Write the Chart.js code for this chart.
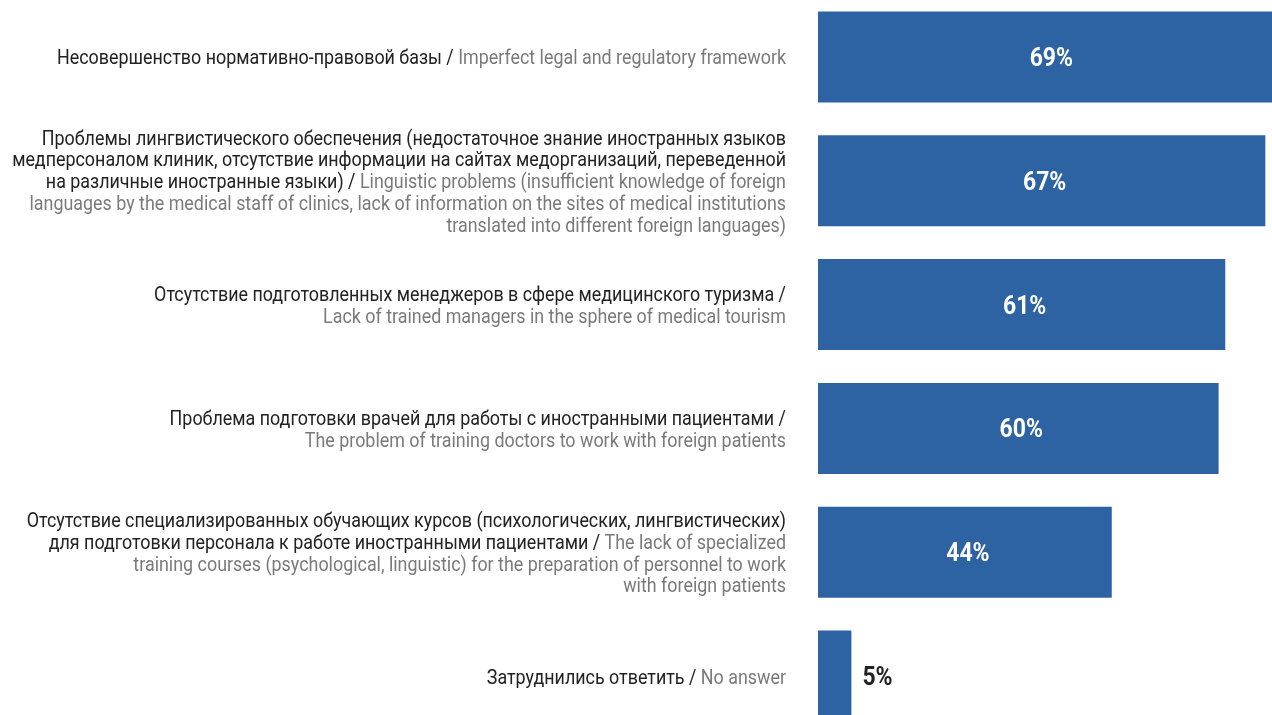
<!DOCTYPE html>
<html lang="ru">
<head>
    <meta charset="UTF-8">
    <title>Проблемы медицинского туризма</title>
    <script src="https://cdn.jsdelivr.net/npm/chart.js"></script>
    <style>
        html, body { margin: 0; padding: 0; background: #fff; overflow: hidden; }
        #wrap { position: absolute; left: 0; top: -5px; width: 1272px; height: 743px; }
    </style>
</head>
<body>
    <div id="wrap"><canvas id="chart" width="1272" height="743"></canvas></div>
    <script>
        // категории: строки подписи, как они переносятся на картинке
        const categories = [
            ['Несовершенство нормативно-правовой базы / Imperfect legal and regulatory framework'],
            ['Проблемы лингвистического обеспечения (недостаточное знание иностранных языков',
             'медперсоналом клиник, отсутствие информации на сайтах медорганизаций, переведенной',
             'на различные иностранные языки) / Linguistic problems (insufficient knowledge of foreign',
             'languages by the medical staff of clinics, lack of information on the sites of medical institutions',
             'translated into different foreign languages)'],
            ['Отсутствие подготовленных менеджеров в сфере медицинского туризма /',
             'Lack of trained managers in the sphere of medical tourism'],
            ['Проблема подготовки врачей для работы с иностранными пациентами /',
             'The problem of training doctors to work with foreign patients'],
            ['Отсутствие специализированных обучающих курсов (психологических, лингвистических)',
             'для подготовки персонала к работе иностранными пациентами / The lack of specialized',
             'training courses (psychological, linguistic) for the preparation of personnel to work',
             'with foreign patients'],
            ['Затруднились ответить / No answer']
        ];
        const values = [69, 67, 61, 60, 44, 5];

        const BAR = '#2d62a3';
        const DARK = '#222222';
        const GRAY = '#7a7a7a';
        const FONT = 'Roboto, "Noto Sans", sans-serif';

        // подписи слева: русская часть тёмная, английская серая
        // шрифт на картинке узкий, поэтому сжимаем по горизонтали
        const labelPlugin = {
            id: 'sideLabels',
            afterDraw(chart) {
                const ctx = chart.ctx;
                const yScale = chart.scales.y;
                const xRight = 786;
                const lh = 21.8;
                ctx.save();
                ctx.font = '20px ' + FONT;
                ctx.textBaseline = 'alphabetic';
                ctx.textAlign = 'left';
                const sx = 729 / ctx.measureText(categories[0][0]).width;
                categories.forEach((lines, i) => {
                    const yc = yScale.getPixelForValue(i);
                    let gray = false;
                    lines.forEach((line, j) => {
                        const y = yc + 7.5 + (j - (lines.length - 1) / 2) * lh;
                        let parts;
                        if (!gray && line.indexOf('/') >= 0) {
                            const k = line.indexOf('/') + 1;
                            parts = [[line.slice(0, k), DARK], [line.slice(k), GRAY]];
                            gray = true;
                        } else {
                            parts = [[line, gray ? GRAY : DARK]];
                        }
                        const total = parts.reduce((s, p) => s + ctx.measureText(p[0]).width, 0) * sx;
                        let x = xRight - total;
                        parts.forEach(p => {
                            ctx.save();
                            ctx.translate(x, y);
                            ctx.scale(sx, 1);
                            ctx.fillStyle = p[1];
                            ctx.fillText(p[0], 0, 0);
                            ctx.restore();
                            x += ctx.measureText(p[0]).width * sx;
                        });
                    });
                });
                ctx.restore();
            }
        };

        // проценты на столбцах
        const valuePlugin = {
            id: 'valueLabels',
            afterDatasetsDraw(chart) {
                const ctx = chart.ctx;
                const meta = chart.getDatasetMeta(0);
                ctx.save();
                ctx.font = 'bold 25px ' + FONT;
                ctx.textBaseline = 'alphabetic';
                ctx.textAlign = 'left';
                const sx = 0.92;
                meta.data.forEach((bar, i) => {
                    const txt = values[i] + '%';
                    const tw = ctx.measureText(txt).width * sx;
                    const w = bar.x - bar.base;
                    let x;
                    if (w > 80) {
                        ctx.fillStyle = '#ffffff';
                        x = bar.base + w / 2 + 3 - tw / 2;
                    } else {
                        ctx.fillStyle = DARK;
                        x = bar.x + 11;
                    }
                    ctx.save();
                    ctx.translate(x, bar.y + 9);
                    ctx.scale(sx, 1);
                    ctx.fillText(txt, 0, 0);
                    ctx.restore();
                });
                ctx.restore();
            }
        };

        new Chart(document.getElementById('chart'), {
            type: 'bar',
            data: {
                labels: categories.map(c => c.join(' ')),
                datasets: [{
                    data: values,
                    backgroundColor: BAR,
                    borderWidth: 0,
                    barPercentage: 0.735,
                    categoryPercentage: 1
                }]
            },
            options: {
                indexAxis: 'y',
                responsive: false,
                animation: false,
                layout: { padding: { left: 818, right: 0, top: 0, bottom: 0 } },
                scales: {
                    x: { display: false, min: 0, max: 68 },
                    y: { display: false }
                },
                plugins: {
                    legend: { display: false },
                    tooltip: { enabled: false }
                }
            },
            plugins: [labelPlugin, valuePlugin]
        });
    </script>
</body>
</html>
